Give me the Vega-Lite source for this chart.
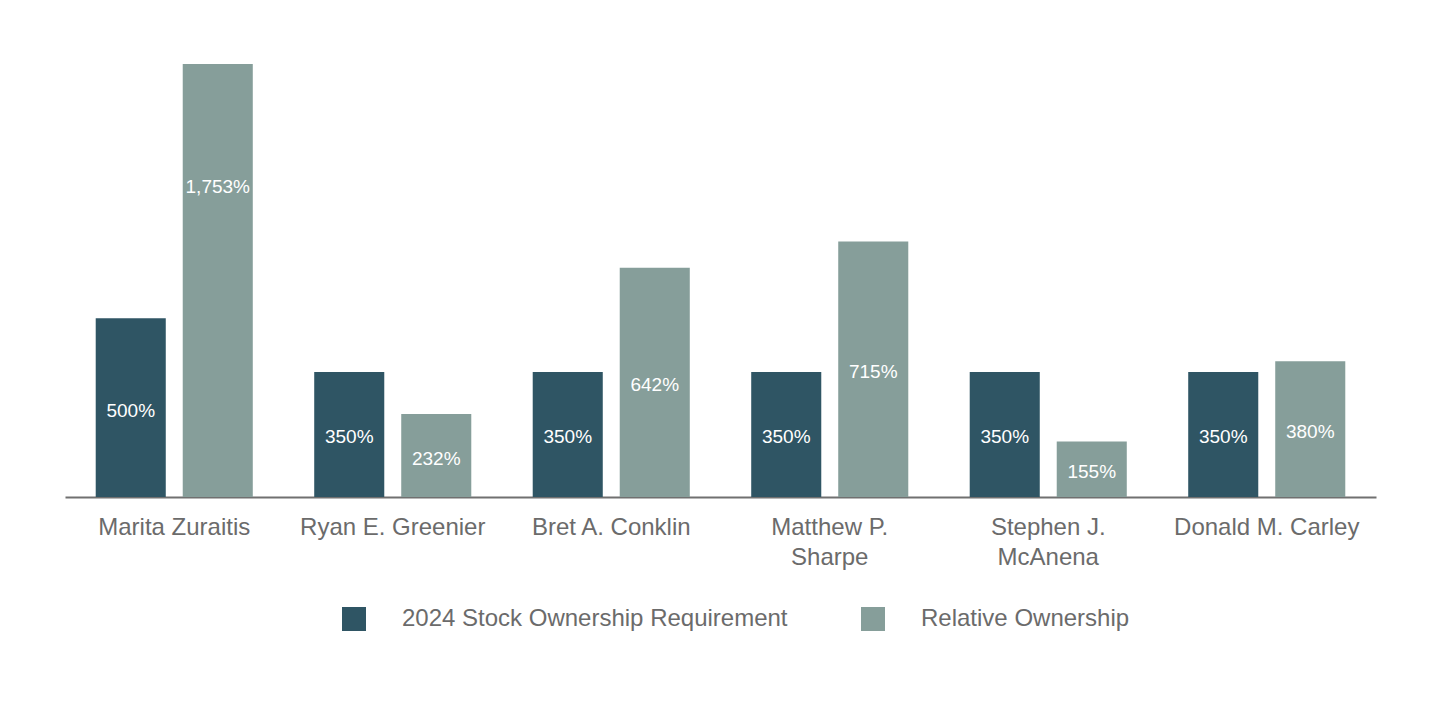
{
  "$schema": "https://vega.github.io/schema/vega-lite/v6.json",
  "width": 1311,
  "height": 433,
  "autosize": {"type": "none"},
  "padding": {"left": 65, "top": 64, "right": 64, "bottom": 209},
  "background": "white",
  "config": {
    "view": {"stroke": null},
    "font": "Liberation Sans"
  },
  "data": {
    "values": [
      {"name": "Marita Zuraitis", "series": "2024 Stock Ownership Requirement", "value": 500},
      {"name": "Marita Zuraitis", "series": "Relative Ownership", "value": 1753},
      {"name": "Ryan E. Greenier", "series": "2024 Stock Ownership Requirement", "value": 350},
      {"name": "Ryan E. Greenier", "series": "Relative Ownership", "value": 232},
      {"name": "Bret A. Conklin", "series": "2024 Stock Ownership Requirement", "value": 350},
      {"name": "Bret A. Conklin", "series": "Relative Ownership", "value": 642},
      {"name": "Matthew P. Sharpe", "series": "2024 Stock Ownership Requirement", "value": 350},
      {"name": "Matthew P. Sharpe", "series": "Relative Ownership", "value": 715},
      {"name": "Stephen J. McAnena", "series": "2024 Stock Ownership Requirement", "value": 350},
      {"name": "Stephen J. McAnena", "series": "Relative Ownership", "value": 155},
      {"name": "Donald M. Carley", "series": "2024 Stock Ownership Requirement", "value": 350},
      {"name": "Donald M. Carley", "series": "Relative Ownership", "value": 380}
    ]
  },
  "transform": [
    {"calculate": "datum.value / 2", "as": "mid"},
    {"calculate": "format(datum.value, ',') + '%'", "as": "label"}
  ],
  "encoding": {
    "x": {
      "field": "name",
      "type": "nominal",
      "sort": null,
      "scale": {"paddingInner": 0, "paddingOuter": 0},
      "axis": {
        "title": null,
        "ticks": false,
        "labelAngle": 0,
        "labelFontSize": 24,
        "labelColor": "#6b6b6b",
        "labelPadding": 18,
        "labelLineHeight": 30,
        "labelBaseline": "top",
        "labelLimit": 400,
        "domainColor": "#707070",
        "domainWidth": 2,
        "grid": false,
        "labelExpr": "datum.label == 'Matthew P. Sharpe' ? ['Matthew P.', 'Sharpe'] : datum.label == 'Stephen J. McAnena' ? ['Stephen J.', 'McAnena'] : datum.label"
      }
    },
    "xOffset": {
      "field": "series",
      "type": "nominal",
      "sort": ["2024 Stock Ownership Requirement", "Relative Ownership"],
      "scale": {"paddingInner": 0.195, "paddingOuter": 0.353}
    }
  },
  "layer": [
    {
      "mark": {"type": "bar", "clip": true},
      "encoding": {
        "y": {
          "field": "value",
          "type": "quantitative",
          "scale": {"domain": [0, 1212], "nice": false, "zero": true},
          "axis": null
        },
        "color": {
          "field": "series",
          "type": "nominal",
          "scale": {
            "domain": ["2024 Stock Ownership Requirement", "Relative Ownership"],
            "range": ["#2f5564", "#869e9a"]
          },
          "legend": {
            "title": null,
            "orient": "none",
            "direction": "horizontal",
            "legendX": 277,
            "legendY": 543,
            "padding": 0,
            "symbolType": "square",
            "symbolSize": 576,
            "symbolStrokeWidth": 0,
            "labelFontSize": 24,
            "labelColor": "#6b6b6b",
            "labelOffset": 36,
            "columnPadding": 73,
            "labelLimit": 500
          }
        }
      }
    },
    {
      "mark": {"type": "text", "color": "white", "fontSize": 19, "align": "center", "baseline": "middle", "dy": 3},
      "encoding": {
        "y": {"field": "mid", "type": "quantitative", "scale": {"domain": [0, 1212], "nice": false}},
        "text": {"field": "label", "type": "nominal"}
      }
    }
  ]
}
